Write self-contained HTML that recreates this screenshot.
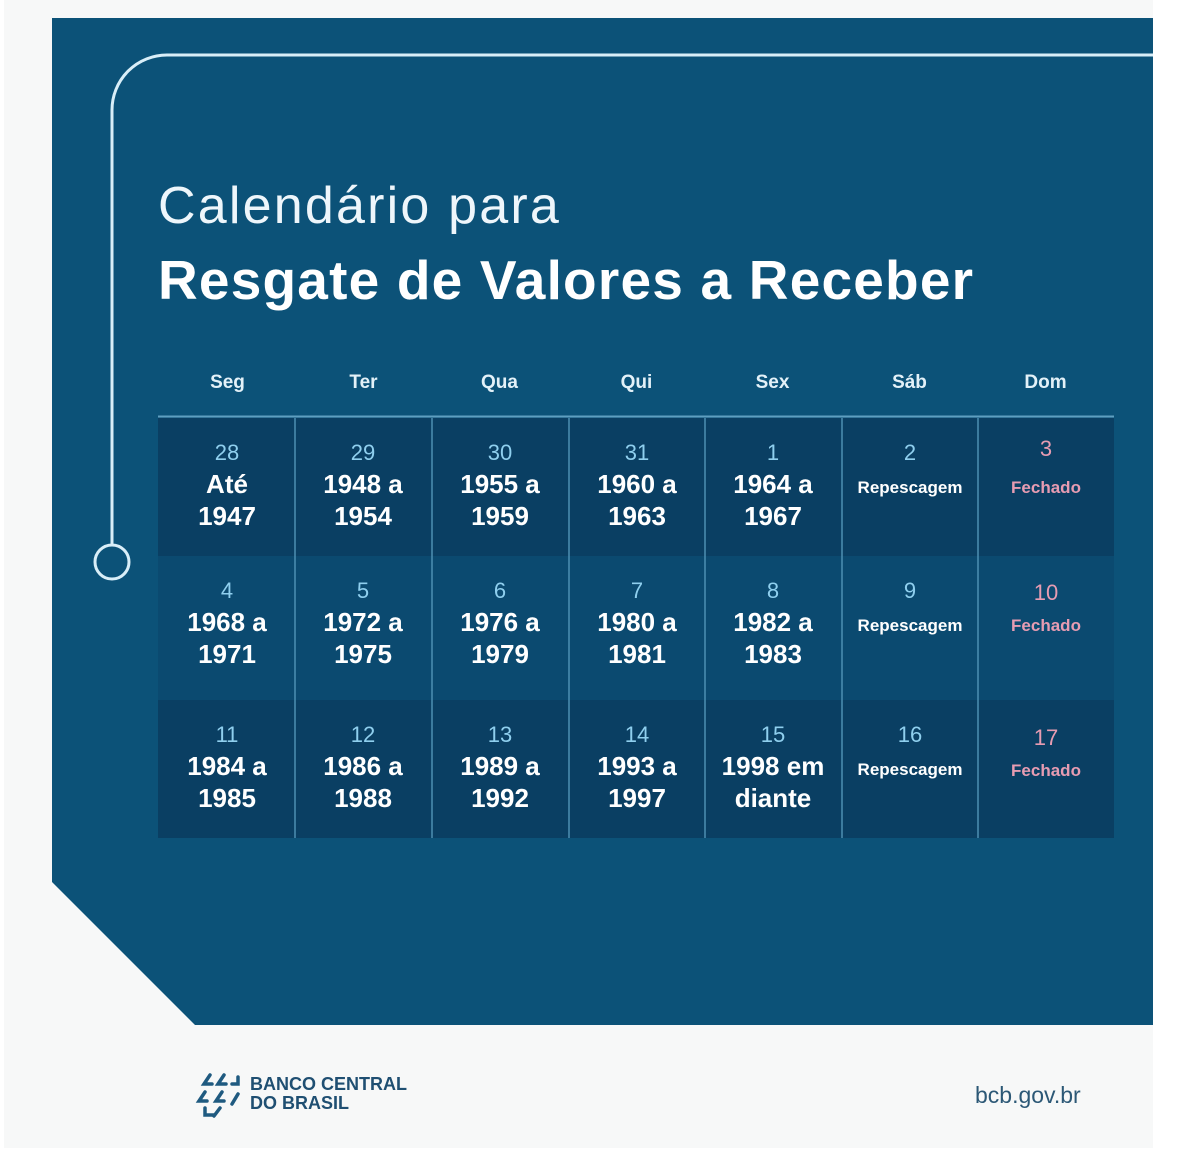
<!DOCTYPE html>
<html><head><meta charset="utf-8"><style>
body{margin:0;width:1200px;height:1149px;background:#fff;position:relative;overflow:hidden;font-family:"Liberation Sans","DejaVu Sans",sans-serif}
.bg{position:absolute;left:4px;top:0;width:1149px;height:1148px;background:#f7f8f8}
.panel{position:absolute;left:52px;top:18px;width:1101px;height:1007px;background:#0c5278;clip-path:polygon(0 0,100% 0,100% 100%,143px 100%,0 864px)}
.t1{position:absolute;left:158px;top:176px;color:#eef6fb;font-size:52px;font-weight:300;letter-spacing:2.2px}
.t2{position:absolute;left:158px;top:248px;color:#fff;font-size:55px;font-weight:bold;letter-spacing:1.2px}
.hd{position:absolute;top:372px;width:137px;text-align:center;color:#e3f1f8;font-weight:bold;font-size:19px}
.cell{position:absolute;width:136px;text-align:center;color:#fff;font-weight:bold}
.n{color:#8fcfee;font-weight:normal;font-size:22px;display:block;margin-bottom:2px}
.m{font-size:26px;line-height:32px}
.r{font-size:17px}
.f{font-size:17px;color:#e79cb2}
</style></head><body>
<div class="bg"></div>
<div class="panel"></div>
<svg style="position:absolute;left:0;top:0" width="1200" height="1149">
<path d="M1153 55 H167 A55 55 0 0 0 112 110 V545" fill="none" stroke="#d9eef8" stroke-width="3"/>
<circle cx="112" cy="562" r="17" fill="none" stroke="#d9eef8" stroke-width="3"/>
<rect x="158" y="418" width="956" height="138" fill="#0a3f63"/>
<rect x="158" y="556" width="956" height="144" fill="#0b4a70"/>
<rect x="158" y="700" width="956" height="138" fill="#0a3f63"/>
<line x1="158" y1="416.5" x2="1114" y2="416.5" stroke="#5f9fc0" stroke-width="2"/>
<g stroke="#4d8fb2" stroke-width="1.5">
<line x1="295" y1="418" x2="295" y2="838"/><line x1="432" y1="418" x2="432" y2="838"/><line x1="569" y1="418" x2="569" y2="838"/><line x1="705" y1="418" x2="705" y2="838"/><line x1="842" y1="418" x2="842" y2="838"/><line x1="978" y1="418" x2="978" y2="838"/>
</g>
<g fill="none" stroke="#1f5a80" stroke-width="3.5" stroke-linecap="round">
<path d="M210 1075 L204 1084 H212"/><path d="M224 1075 L218 1084 H226"/><path d="M238 1077 V1084 H232"/>
<path d="M205 1092 L199 1101 H207"/><path d="M222 1092 L216 1101 H224"/><path d="M238 1094 L232 1104"/>
<path d="M205 1108 V1115 H214"/><path d="M220 1108 L214 1116"/>
</g>
</svg>
<div class="t1">Calendário para</div>
<div class="t2">Resgate de Valores a Receber</div>
<div class="hd" style="left:159px">Seg</div><div class="hd" style="left:295px">Ter</div><div class="hd" style="left:431px">Qua</div><div class="hd" style="left:568px">Qui</div><div class="hd" style="left:704px">Sex</div><div class="hd" style="left:841px">Sáb</div><div class="hd" style="left:977px">Dom</div>

<div class="cell" style="left:159px;top:440px"><span class="n">28</span><div class="m">Até<br>1947</div></div>
<div class="cell" style="left:295px;top:440px"><span class="n">29</span><div class="m">1948 a<br>1954</div></div>
<div class="cell" style="left:432px;top:440px"><span class="n">30</span><div class="m">1955 a<br>1959</div></div>
<div class="cell" style="left:569px;top:440px"><span class="n">31</span><div class="m">1960 a<br>1963</div></div>
<div class="cell" style="left:705px;top:440px"><span class="n">1</span><div class="m">1964 a<br>1967</div></div>
<div class="cell" style="left:842px;top:440px"><span class="n">2</span><div class="r" style="margin-top:12px">Repescagem</div></div>
<div class="cell" style="left:978px;top:436px"><span class="n" style="color:#e79cb2">3</span><div class="f" style="margin-top:16px">Fechado</div></div>

<div class="cell" style="left:159px;top:578px"><span class="n">4</span><div class="m">1968 a<br>1971</div></div>
<div class="cell" style="left:295px;top:578px"><span class="n">5</span><div class="m">1972 a<br>1975</div></div>
<div class="cell" style="left:432px;top:578px"><span class="n">6</span><div class="m">1976 a<br>1979</div></div>
<div class="cell" style="left:569px;top:578px"><span class="n">7</span><div class="m">1980 a<br>1981</div></div>
<div class="cell" style="left:705px;top:578px"><span class="n">8</span><div class="m">1982 a<br>1983</div></div>
<div class="cell" style="left:842px;top:578px"><span class="n">9</span><div class="r" style="margin-top:12px">Repescagem</div></div>
<div class="cell" style="left:978px;top:580px"><span class="n" style="color:#e79cb2">10</span><div class="f" style="margin-top:10px">Fechado</div></div>

<div class="cell" style="left:159px;top:722px"><span class="n">11</span><div class="m">1984 a<br>1985</div></div>
<div class="cell" style="left:295px;top:722px"><span class="n">12</span><div class="m">1986 a<br>1988</div></div>
<div class="cell" style="left:432px;top:722px"><span class="n">13</span><div class="m">1989 a<br>1992</div></div>
<div class="cell" style="left:569px;top:722px"><span class="n">14</span><div class="m">1993 a<br>1997</div></div>
<div class="cell" style="left:705px;top:722px"><span class="n">15</span><div class="m">1998 em<br>diante</div></div>
<div class="cell" style="left:842px;top:722px"><span class="n">16</span><div class="r" style="margin-top:12px">Repescagem</div></div>
<div class="cell" style="left:978px;top:725px"><span class="n" style="color:#e79cb2">17</span><div class="f" style="margin-top:10px">Fechado</div></div>

<div style="position:absolute;left:250px;top:1075px;color:#1f4f72;font-weight:bold;font-size:18px;line-height:19px">BANCO CENTRAL<br>DO BRASIL</div>
<div style="position:absolute;left:975px;top:1082px;color:#2c5876;font-size:23px">bcb.gov.br</div>
</body></html>
